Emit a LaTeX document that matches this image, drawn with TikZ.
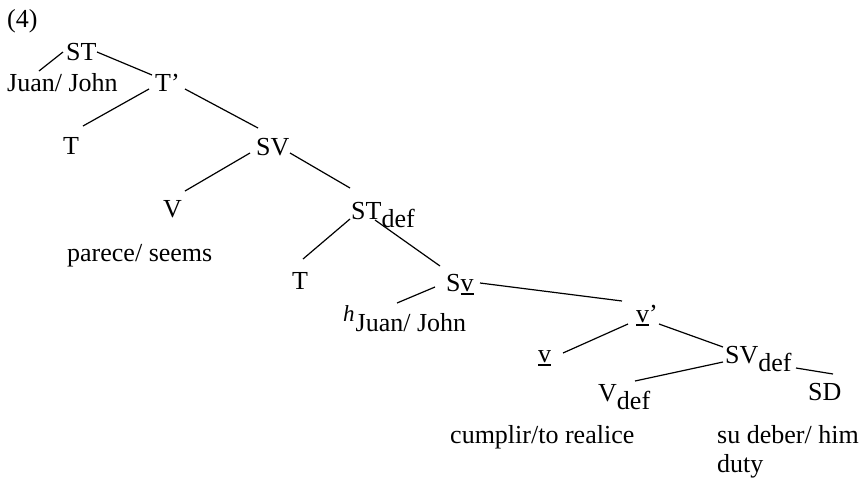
\documentclass[tikz,border=0pt]{standalone}
\usepackage{fontspec}
\setmainfont{Liberation Serif}
\newcommand\lowsub[1]{\raisebox{-8pt}{#1}}
\newcommand\uv{\setbox0\hbox{v}\rlap{\rule[-3.5pt]{\wd0}{1.1pt}}v}
\begin{document}
\begin{tikzpicture}[x=1pt,y=-1pt,
  lbl/.style={anchor=base west,inner sep=0pt,font=\fontsize{26}{30}\selectfont},
  edge/.style={line width=1.2pt}]
\useasboundingbox (0,0) rectangle (864,477);
\node[lbl] (n4) at (7,27) {(4)};
\node[lbl] (ST) at (66,60) {ST};
\node[lbl] (J1) at (7,91) {Juan/ John};
\node[lbl] (Tp) at (155,91) {T’};
\node[lbl] (T1) at (63,154) {T};
\node[lbl] (SV) at (256,155) {SV};
\node[lbl] (V) at (163,217) {V};
\node[lbl] (par) at (67,261) {parece/ seems};
\node[lbl] (STd) at (351,219) {ST\lowsub{def}};
\node[lbl] (T2) at (292,289) {T};
\node[lbl] (Sv) at (446,291) {S\uv};
\node[lbl] (hJ) at (343,321) {{\fontsize{23}{26}\selectfont\itshape h}\kern1pt\raisebox{-10pt}{Juan/ John}};
\node[lbl] (vp) at (636,322) {\uv’};
\node[lbl] (v) at (538,362) {\uv};
\node[lbl] (SVd) at (725,363) {SV\lowsub{def}};
\node[lbl] (Vd) at (598,401) {V\lowsub{def}};
\node[lbl] (SD) at (808,400) {SD};
\node[lbl] (cum) at (450,443) {cumplir/to realice};
\node[lbl] (sud) at (717,443) {su deber/ him};
\node[lbl] (duty) at (717,472) {duty};
\draw[edge] ([shift={(-3,-8)}]ST.base west) -- ([shift={(32,-20)}]J1.base west);
\draw[edge] ([shift={(31,-8)}]ST.base west) -- ([shift={(-3,-16)}]Tp.base west);
\draw[edge] ([shift={(-6,-2)}]Tp.base west) -- ([shift={(20,-28)}]T1.base west);
\draw[edge] ([shift={(30,-2)}]Tp.base west) -- ([shift={(2,-27)}]SV.base west);
\draw[edge] ([shift={(-6,-2)}]SV.base west) -- ([shift={(22,-26)}]V.base west);
\draw[edge] ([shift={(34,-2)}]SV.base west) -- ([shift={(-1,-31)}]STd.base west);
\draw[edge] ([shift={(-1,0)}]STd.base west) -- ([shift={(11,-30)}]T2.base west);
\draw[edge] ([shift={(24,1)}]STd.base west) -- ([shift={(-6,-25)}]Sv.base west);
\draw[edge] ([shift={(-11,-4)}]Sv.base west) -- ([shift={(54,-18)}]hJ.base west);
\draw[edge] ([shift={(34,-8)}]Sv.base west) -- ([shift={(-14,-21)}]vp.base west);
\draw[edge] ([shift={(-8,2)}]vp.base west) -- ([shift={(25,-9)}]v.base west);
\draw[edge] ([shift={(23,2)}]vp.base west) -- ([shift={(-2,-16)}]SVd.base west);
\draw[edge] ([shift={(-2,-1)}]SVd.base west) -- ([shift={(37,-20)}]Vd.base west);
\draw[edge] ([shift={(71,5)}]SVd.base west) -- ([shift={(25,-26)}]SD.base west);
\end{tikzpicture}
\end{document}
